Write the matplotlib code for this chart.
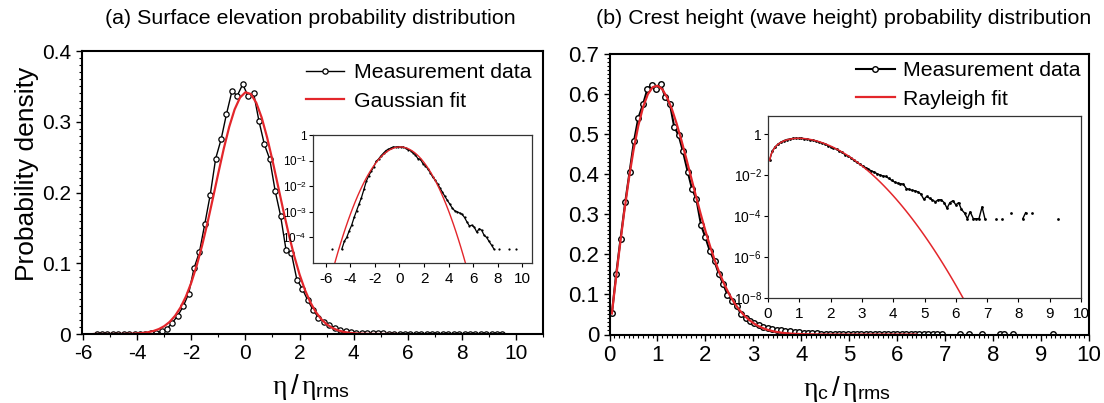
import numpy as np
import matplotlib
matplotlib.use('Agg')
import matplotlib.pyplot as plt
from matplotlib.ticker import MultipleLocator, NullLocator

plt.rcParams['font.family'] = ['Liberation Sans', 'DejaVu Sans']
plt.rcParams['mathtext.fontset'] = 'custom'
plt.rcParams['mathtext.rm'] = 'Liberation Sans'
plt.rcParams['mathtext.it'] = 'Liberation Serif'
plt.rcParams['mathtext.sf'] = 'Liberation Sans'
plt.rcParams['axes.unicode_minus'] = False

# (a) surface elevation: bin centres and measured density
eta_bins = [-5.5, -5.3, -5.1, -4.9, -4.7, -4.5, -4.3, -4.1, -3.9, -3.7,
            -3.5, -3.3, -3.1, -2.9, -2.7, -2.5, -2.3, -2.1, -1.9, -1.7,
            -1.5, -1.3, -1.1, -0.9, -0.7, -0.5, -0.3, -0.1, 0.1, 0.3,
            0.5, 0.7, 0.9, 1.1, 1.3, 1.5, 1.7, 1.9, 2.1, 2.3,
            2.5, 2.7, 2.9, 3.1, 3.3, 3.5, 3.7, 3.9, 4.1, 4.3,
            4.5, 4.7, 4.9, 5.1, 5.3, 5.5, 5.7, 5.9, 6.1, 6.3,
            6.5, 6.7, 6.9, 7.1, 7.3, 7.5, 7.7, 7.9, 8.1, 8.3,
            8.5, 8.7, 8.9, 9.1, 9.3, 9.5]
eta_pdf = [3.5e-5, 0, 0, 0, 3.5e-5, 7e-5, 1.0e-4, 1.8e-4, 3.0e-4, 6.0e-4,
           1.1e-3, 2.0e-3, 3.6e-3, 7.5e-3, 0.016, 0.026, 0.039, 0.057, 0.093, 0.116,
           0.156, 0.197, 0.248, 0.275, 0.311, 0.343, 0.337, 0.353, 0.336, 0.341,
           0.301, 0.268, 0.247, 0.202, 0.167, 0.119, 0.114, 0.077, 0.064, 0.048,
           0.034, 0.023, 0.0175, 0.0125, 0.0085, 0.0058, 0.0040, 0.0028, 0.0020, 0.0014,
           0.0011, 0.0010, 0.0009, 0.0008, 0.0006, 0.0004, 2.8e-4, 3.0e-4, 2.5e-4, 1.6e-4,
           2.2e-4, 1.9e-4, 1.2e-4, 1.0e-4, 7e-5, 5e-5, 3.5e-5, 0, 3.5e-5, 0,
           0, 0, 3.5e-5, 0, 0, 3.5e-5]

# (a) Gaussian fit
gauss_x = [-5.6, -5.4, -5.2, -5.0, -4.8, -4.6, -4.4, -4.2, -4.0, -3.8,
           -3.6, -3.4, -3.2, -3.0, -2.8, -2.6, -2.4, -2.2, -2.0, -1.8,
           -1.6, -1.4, -1.2, -1.0, -0.8, -0.6, -0.4, -0.2, 0.0, 0.2,
           0.4, 0.6, 0.8, 1.0, 1.2, 1.4, 1.6, 1.8, 2.0, 2.2,
           2.4, 2.6, 2.8, 3.0, 3.2, 3.4, 3.6, 3.8, 4.0, 4.2,
           4.4, 4.6, 4.8, 5.0, 5.2, 5.4, 5.6]
gauss_pdf = [2.671e-06, 6.051e-06, 1.331e-05, 2.843e-05, 5.896e-05, 1.187e-04,
             2.321e-04, 4.407e-04, 8.123e-04, 1.454e-03, 2.526e-03, 4.263e-03,
             6.984e-03, 0.01111, 0.01716, 0.02573, 0.03747, 0.05297, 0.07272,
             0.09693, 0.1254, 0.1576, 0.1923, 0.2278, 0.2621, 0.2927, 0.3174,
             0.3342, 0.3417, 0.3392, 0.3269, 0.3059, 0.278, 0.2453, 0.2101,
             0.1748, 0.1411, 0.1107, 0.08427, 0.0623, 0.04472, 0.03117, 0.02109,
             0.01386, 8.841e-03, 5.476e-03, 3.294e-03, 1.924e-03, 1.091e-03,
             6.005e-04, 3.21e-04, 1.666e-04, 8.398e-05, 4.109e-05, 1.953e-05,
             9.008e-06, 4.035e-06]

# (b) crest height: bin centres and measured density (0 = empty bin)
crest_bins = [0.05, 0.14, 0.23, 0.33, 0.42, 0.51, 0.60, 0.70, 0.79, 0.88,
              0.98, 1.07, 1.16, 1.26, 1.35, 1.44, 1.53, 1.63, 1.72, 1.81,
              1.91, 2.00, 2.09, 2.19, 2.28, 2.37, 2.46, 2.56, 2.65, 2.74,
              2.84, 2.93, 3.02, 3.12, 3.21, 3.30, 3.39, 3.49, 3.58, 3.67,
              3.77, 3.86, 3.95, 4.05, 4.14, 4.23, 4.32, 4.42, 4.51, 4.60,
              4.70, 4.79, 4.88, 4.98, 5.07, 5.16, 5.25, 5.35, 5.44, 5.53,
              5.63, 5.72, 5.81, 5.91, 6.00, 6.09, 6.18, 6.28, 6.37, 6.46,
              6.56, 6.65, 6.74, 6.84, 6.93, 7.02, 7.11, 7.21, 7.30, 7.39,
              7.49, 7.58, 7.67, 7.77, 7.86, 7.95, 8.04, 8.14, 8.23, 8.32,
              8.42, 8.51, 8.60, 8.70, 8.79, 8.88, 8.97, 9.07, 9.16, 9.25]
crest_pdf = [0.053, 0.151, 0.238, 0.331, 0.406, 0.481, 0.539, 0.574, 0.611, 0.622,
             0.611, 0.624, 0.592, 0.574, 0.517, 0.497, 0.457, 0.406, 0.363, 0.338,
             0.272, 0.242, 0.209, 0.182, 0.151, 0.126, 0.099, 0.084, 0.070, 0.052,
             0.041, 0.034, 0.028, 0.023, 0.019, 0.016, 0.014, 0.0115, 0.010, 0.009,
             0.0085, 0.0068, 0.0055, 0.0045, 0.0040, 0.0038, 0.0036, 0.0022, 0.0020, 0.0018,
             0.0017, 0.0015, 0.0012, 6.5e-4, 9e-4, 7.4e-4, 6e-4, 5e-4, 6.2e-4, 6.2e-4,
             4.5e-4, 2.4e-4, 4.5e-4, 5.6e-4, 3.5e-4, 4.5e-4, 2.1e-4, 1.4e-4, 7.4e-5, 1.6e-4,
             7.4e-5, 7.4e-5, 7.4e-5, 2.8e-4, 7.4e-5, 0, 0, 0, 7.4e-5, 0,
             7.4e-5, 0, 0, 1.45e-4, 0, 0, 0, 7.4e-5, 1.45e-4, 0,
             1.45e-4, 0, 0, 0, 0, 0, 0, 0, 0, 7.4e-5]

# (b) Rayleigh fit
ray_x = [0.05, 0.1, 0.2, 0.3, 0.4, 0.5, 0.6, 0.7, 0.8, 0.9,
         1.0, 1.1, 1.2, 1.3, 1.4, 1.5, 1.6, 1.7, 1.8, 1.9,
         2.0, 2.1, 2.2, 2.3, 2.4, 2.5, 2.6, 2.7, 2.8, 2.9,
         3.0, 3.1, 3.2, 3.3, 3.4, 3.5, 3.6, 3.7, 3.8, 3.9,
         4.0, 4.1, 4.2, 4.3, 4.4, 4.5, 4.6, 4.7, 4.8, 4.9,
         5.0, 5.1, 5.2, 5.3, 5.4, 5.5, 5.6, 5.7, 5.8, 5.9,
         6.0, 6.1, 6.2, 6.3, 6.4]
ray_pdf = [0.05221, 0.104, 0.2048, 0.2992, 0.3846, 0.4587, 0.5197, 0.5665, 0.5986,
           0.6161, 0.6199, 0.611, 0.591, 0.5618, 0.5254, 0.4837, 0.4388, 0.3923,
           0.346, 0.301, 0.2584, 0.219, 0.1832, 0.1514, 0.1236, 0.09962, 0.07936,
           0.06247, 0.0486, 0.03736, 0.02839, 0.02133, 0.01584, 0.01163, 8.441e-03,
           6.058e-03, 4.299e-03, 3.017e-03, 2.093e-03, 1.437e-03, 9.749e-04,
           6.543e-04, 4.343e-04, 2.851e-04, 1.852e-04, 1.189e-04, 7.554e-05,
           4.747e-05, 2.95e-05, 1.814e-05, 1.103e-05, 6.636e-06, 3.949e-06,
           2.325e-06, 1.354e-06, 7.801e-07, 4.446e-07, 2.507e-07, 1.398e-07,
           7.716e-08, 4.212e-08, 2.275e-08, 1.216e-08, 6.427e-09, 3.361e-09]

W, H = 1104, 403
RED = '#e3262b'


def rect(l, t, r, b):
    return [l / W, 1 - b / H, (r - l) / W, (b - t) / H]


def pos(v):
    # empty bins left out (log axes / sparse tail)
    v = np.asarray(v, float)
    return np.where(v > 0, v, np.nan)


fig = plt.figure(figsize=(W / 100, H / 100), dpi=100)

# ---- (a) main
ax = fig.add_axes(rect(81.5, 51, 543, 334))
ax.plot(eta_bins, eta_pdf, '-o', color='black', lw=1.0, ms=3.8,
        mfc='white', mec='black', mew=0.9, label='Measurement data')
ax.plot(gauss_x, gauss_pdf, color=RED, lw=1.6, label='Gaussian fit')
ax.set_xlim(-6.06, 11.0)
ax.set_ylim(0, 0.4)
ax.set_xticks([-6, -4, -2, 0, 2, 4, 6, 8, 10])
ax.xaxis.set_minor_locator(MultipleLocator(1))
ax.set_yticks([0, 0.1, 0.2, 0.3, 0.4], ['0', '0.1', '0.2', '0.3', '0.4'])
ax.yaxis.set_minor_locator(MultipleLocator(0.01))
ax.tick_params(axis='both', labelsize=15, length=4, width=1, direction='out')
ax.tick_params(which='minor', length=2.2, width=0.8)
for s in ax.spines.values():
    s.set_linewidth(1.5)
ax.legend(loc='upper right', bbox_to_anchor=((532 - 81.5) / 461.5, 1 - (63 - 51) / 283),
          frameon=False, fontsize=15.3, handlelength=1.8, handletextpad=0.5,
          borderaxespad=0, borderpad=0, labelspacing=0.45)

# ---- (a) inset
ai = fig.add_axes(rect(313, 135, 532, 263))
ai.plot(eta_bins, pos(eta_pdf), '-o', color='black', lw=0.9, ms=1.6, mew=0)
ai.plot(gauss_x, gauss_pdf, color=RED, lw=1.0)
ai.set_yscale('log')
ai.set_xlim(-7.05, 10.8)
ai.set_ylim(1e-5, 1)
ai.set_xticks([-6, -4, -2, 0, 2, 4, 6, 8, 10])
ai.set_yticks([1, 1e-1, 1e-2, 1e-3, 1e-4],
              ['1', r'$10^{-1}$', r'$10^{-2}$', r'$10^{-3}$', r'$10^{-4}$'])
ai.yaxis.set_minor_locator(NullLocator())
ai.tick_params(axis='x', labelsize=11, length=3, width=0.8)
ai.tick_params(axis='y', labelsize=8.5, length=3, width=0.8, pad=1.5)
for s in ai.spines.values():
    s.set_linewidth(0.9)
    s.set_color('#333333')

# ---- (b) main
bx = fig.add_axes(rect(609.5, 53.5, 1089, 334.5))
bx.plot(crest_bins, pos(crest_pdf), '-o', color='black', lw=1.5, ms=4.0,
        mfc='white', mec='black', mew=1.0, label='Measurement data')
bx.plot(ray_x, ray_pdf, color=RED, lw=1.6, label='Rayleigh fit')
bx.set_xlim(0, 10)
bx.set_ylim(0, 0.7)
bx.set_xticks(range(0, 11))
bx.xaxis.set_minor_locator(MultipleLocator(0.1))
bx.set_yticks([0, 0.1, 0.2, 0.3, 0.4, 0.5, 0.6, 0.7],
              ['0', '0.1', '0.2', '0.3', '0.4', '0.5', '0.6', '0.7'])
bx.yaxis.set_minor_locator(MultipleLocator(0.01))
bx.tick_params(axis='both', labelsize=16, length=4, width=1, direction='out')
bx.tick_params(which='minor', length=2.2, width=0.8)
for s in bx.spines.values():
    s.set_linewidth(1.5)
bx.legend(loc='upper right', bbox_to_anchor=((1080.5 - 609.5) / 479.5, 1 - (61 - 53.5) / 281),
          frameon=False, fontsize=15.3, handlelength=1.8, handletextpad=0.4,
          borderaxespad=0, borderpad=0, labelspacing=0.45)

# ---- (b) inset
bi = fig.add_axes(rect(768, 116, 1081, 298))
bi.plot(crest_bins, pos(crest_pdf), '-o', color='black', lw=1.0, ms=2.0, mew=0)
bi.plot(ray_x, ray_pdf, color=RED, lw=1.1)
bi.set_yscale('log')
bi.set_xlim(0, 10)
bi.set_ylim(1e-8, 7.6)
bi.set_xticks(range(0, 11))
bi.set_yticks([1, 1e-2, 1e-4, 1e-6, 1e-8],
              ['1', r'$10^{-2}$', r'$10^{-4}$', r'$10^{-6}$', r'$10^{-8}$'])
bi.yaxis.set_minor_locator(NullLocator())
bi.tick_params(axis='x', labelsize=11, length=3, width=0.8)
bi.tick_params(axis='y', labelsize=10, length=3, width=0.8, pad=1.5)
for s in bi.spines.values():
    s.set_linewidth(0.9)
    s.set_color('#333333')

# titles and axis labels
fig.text(310 / W, 1 - 18 / H, '(a) Surface elevation probability distribution',
         ha='center', va='center', fontsize=15.4)
fig.text(844 / W, 1 - 18 / H, '(b) Crest height (wave height) probability distribution',
         ha='center', va='center', fontsize=15.4)
fig.text(27 / W, 1 - 174 / H, 'Probability density', rotation=90,
         ha='center', va='center', fontsize=19)
fig.text(311 / W, 1 - 387 / H, r'$η\,/\,η_{\mathrm{rms}}$',
         ha='center', va='center', fontsize=20)
fig.text(847 / W, 1 - 389 / H, r'$η_{\mathrm{c}}\,/\,η_{\mathrm{rms}}$',
         ha='center', va='center', fontsize=20)

fig.savefig('out.png', dpi=100)
